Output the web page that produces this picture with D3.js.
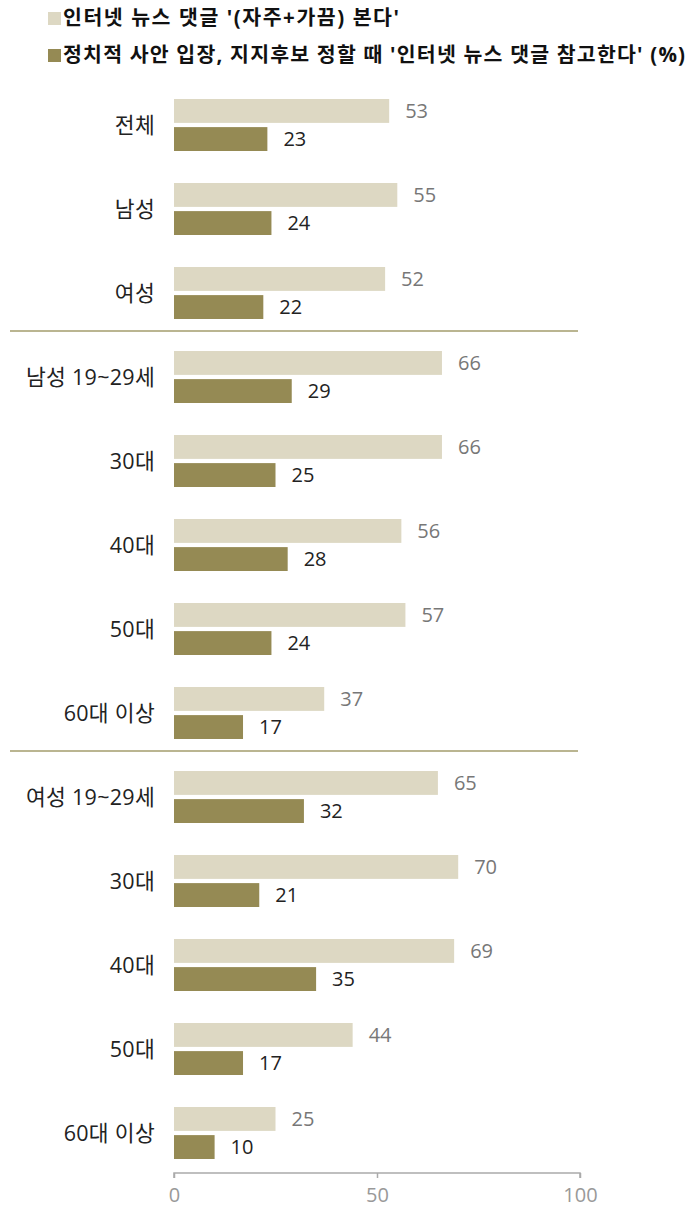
<!DOCTYPE html>
<html>
<head>
<meta charset="utf-8">
<script src="https://cdn.jsdelivr.net/npm/d3@7"></script>
<style>
  body { margin: 0; background: #fff; }
  svg { font-family: "Open Sans", "Noto Sans CJK KR", sans-serif; }
</style>
</head>
<body>
<div id="chart"></div>
<script>
const categories = ["전체", "남성", "여성", "남성 19~29세", "30대", "40대", "50대", "60대 이상",
  "여성 19~29세", "30대", "40대", "50대", "60대 이상"];
const seriesNames = ["인터넷 뉴스 댓글 '(자주+가끔) 본다'",
  "정치적 사안 입장, 지지후보 정할 때 '인터넷 뉴스 댓글 참고한다' (%)"];
const readValues = [53, 55, 52, 66, 66, 56, 57, 37, 65, 70, 69, 44, 25];
const referValues = [23, 24, 22, 29, 25, 28, 24, 17, 32, 21, 35, 17, 10];
const xTicks = [0, 50, 100];
// separators drawn after these category indices
const dividersAfter = [2, 7];

const colors = ["#ddd8c3", "#958a54"];
const labelColors = ["#777", "#222"];
const legendWidths = [336, 622];

const width = 686, height = 1210;
const svg = d3.select("#chart").append("svg")
  .attr("width", width).attr("height", height);

const x = d3.scaleLinear().domain([0, 100]).range([174, 580]);
const y = d3.scaleBand().domain(d3.range(categories.length)).range([83, 1175]);
const sub = d3.scaleBand().domain([0, 1]).range([16, 68]).paddingInner(0.15);

// legend
const legend = svg.append("g");
seriesNames.forEach((name, i) => {
  const ly = 18 + i * 37;
  legend.append("rect").attr("x", 48).attr("y", ly - 6).attr("width", 13).attr("height", 13)
    .attr("fill", colors[i]);
  legend.append("text").attr("x", 63).attr("y", ly).attr("dy", "0.35em")
    .attr("font-size", 20.5).attr("font-weight", "bold").attr("fill", "#111")
    .attr("textLength", legendWidths[i])
    .text(name);
});

const rows = categories.map((c, i) => ({ i, c, vals: [readValues[i], referValues[i]] }));

const g = svg.append("g");
const row = g.selectAll("g.row").data(rows).enter().append("g")
  .attr("transform", d => `translate(0,${y(d.i)})`);

row.append("text")
  .attr("x", 155).attr("y", y.step() / 2).attr("dy", "0.35em")
  .attr("text-anchor", "end").attr("font-size", 21.5).attr("fill", "#222")
  .attr("letter-spacing", 0.3)
  .text(d => d.c);

row.selectAll("rect").data(d => d.vals).enter().append("rect")
  .attr("x", x(0)).attr("y", (v, k) => sub(k))
  .attr("width", v => x(v) - x(0)).attr("height", sub.bandwidth())
  .attr("fill", (v, k) => colors[k]);

row.selectAll("text.val").data(d => d.vals).enter().append("text")
  .attr("class", "val")
  .attr("x", v => x(v) + 16).attr("y", (v, k) => sub(k) + sub.bandwidth() / 2).attr("dy", "0.35em")
  .attr("font-size", 20).attr("fill", (v, k) => labelColors[k])
  .text(v => v);

// group separators
dividersAfter.forEach(k => {
  const yy = y(k) + y.step() - 4;
  svg.append("line").attr("x1", 10).attr("x2", 578).attr("y1", yy).attr("y2", yy)
    .attr("stroke", "#a39d6d").attr("stroke-width", 1.5);
});

// x axis
const axis = svg.append("g").attr("transform", "translate(0,1173)")
  .call(d3.axisBottom(x).tickValues(xTicks).tickSize(5).tickPadding(10));
axis.select(".domain").attr("stroke", "#aaa").attr("stroke-width", 1.5)
  .attr("d", `M${x(0)},5V0H${x(100)}V5`);
axis.selectAll(".tick line").attr("stroke", "#aaa").attr("stroke-width", 1.5);
axis.selectAll(".tick text").attr("font-size", 20).attr("fill", "#999")
  .attr("font-family", "'Open Sans', sans-serif");
</script>
</body>
</html>
